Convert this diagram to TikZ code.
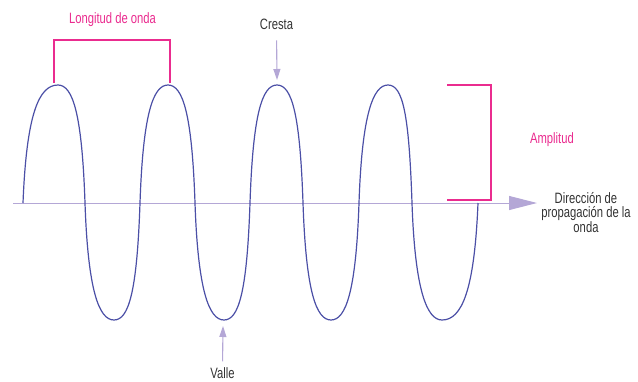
\documentclass[tikz,border=0pt]{standalone}
\usepackage{fontspec}
\setmainfont{Liberation Sans}
\newfontfamily\cond[FakeStretch=0.75]{Liberation Sans}
\usetikzlibrary{arrows.meta}
\definecolor{wavec}{HTML}{4B4FA6}
\definecolor{axisc}{HTML}{B4A7D6}
\definecolor{magc}{HTML}{EA2C8F}
\definecolor{txtc}{HTML}{333333}
\tikzset{
  wavepath/.style={draw=wavec, line width=1.2pt},
  axisline/.style={draw=axisc, line width=1pt, -{Triangle[length=28pt,width=14pt]}},
  pointer/.style={draw=axisc, line width=1.1pt, -{Triangle[length=11pt,width=7pt]}},
  bracketline/.style={draw=magc, line width=1.3pt},
  lbl/.style={inner sep=0pt, anchor=base, text=txtc, font=\cond\fontsize{15}{15}\selectfont},
  maglbl/.style={lbl, text=magc},
}
\begin{document}
\begin{tikzpicture}[x=1pt,y=-1pt]
\useasboundingbox (0,0) rectangle (638,381);
% axis
\coordinate (ax0) at (13,203);
\coordinate (ax1) at (537,203);
\draw[axisline] (ax0) -- (ax1);
% wave
\draw[wavepath] (23,203)
  .. controls (26.5,114.5) and (38.75,85) .. (58,85)
  .. controls (73,85) and (82,114.5) .. (85,203)
  .. controls (88,290.75) and (99,320) .. (114,320)
  .. controls (129,320) and (137,290.75) .. (140,203)
  .. controls (143,114.5) and (153,85) .. (168,85)
  .. controls (183,85) and (192,114.5) .. (195,203)
  .. controls (198,290.75) and (209,320) .. (224,320)
  .. controls (239,320) and (247,290.75) .. (250,203)
  .. controls (253,114.5) and (262,85) .. (277,85)
  .. controls (292,85) and (300,114.5) .. (303,203)
  .. controls (306,290.75) and (316,320) .. (331,320)
  .. controls (346,320) and (356,290.75) .. (359,203)
  .. controls (362,114.5) and (373,85) .. (388,85)
  .. controls (403,85) and (409,114.5) .. (412,203)
  .. controls (415,290.75) and (427,320) .. (442,320)
  .. controls (461.8,320) and (474.4,290.75) .. (478,203);
% wavelength bracket
\draw[bracketline] (54,83) -- (54,40) -- (170,40) -- (170,83);
\node[maglbl] (longitud) at (112.5,23) {Longitud de onda};
% amplitude bracket
\draw[bracketline] (447,85) -- (491,85) -- (491,200) -- (447,200);
\node[maglbl] (amplitud) at (552,143) {Amplitud};
% crest
\node[lbl] (cresta) at (276.5,29) {Cresta};
\coordinate (crestpt) at (277,80);
\draw[pointer, shorten <=11pt] (cresta.south) -- (crestpt);
% trough
\node[lbl] (valle) at (222.5,378.5) {Valle};
\coordinate (vallept) at (223,326);
\draw[pointer, shorten <=6pt] (valle.north) -- (vallept);
% direction label
\node[inner sep=0pt, text=txtc, align=center, font=\cond\fontsize{15}{14.3}\selectfont] (dir) at (586,212.3) {Dirección de\\propagación de la\\onda};
\end{tikzpicture}
\end{document}
